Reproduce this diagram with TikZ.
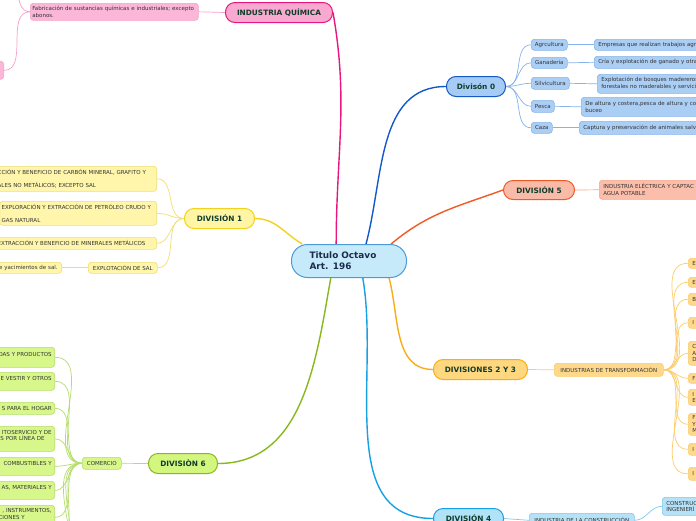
\documentclass[tikz,border=0pt]{standalone}
\usepackage{fontspec}
\usepackage{tikz}
\usetikzlibrary{positioning}
\newfontfamily\mapfont{DejaVu Sans}
\newcommand{\leaffont}{\mapfont\fontsize{5.5}{6.5}\selectfont}
\newcommand{\leaffontmid}{\mapfont\fontsize{5.5}{7}\selectfont}
\newcommand{\leaffontwide}{\mapfont\fontsize{5.5}{13}\selectfont}
\newcommand{\headfont}{\mapfont\bfseries\fontsize{7.35}{9}\selectfont}
\newcommand{\titlefont}{\mapfont\bfseries\fontsize{8.9}{11}\selectfont}
\pgfdeclarelayer{background}
\pgfsetlayers{background,main}
\definecolor{titlefill}{HTML}{C7EAFB}
\definecolor{titleline}{HTML}{4A9BD6}
\definecolor{titletext}{HTML}{1B2B4B}
\definecolor{headtext}{HTML}{0F3B2C}
\definecolor{leaftext}{HTML}{333333}
\definecolor{pinkmain}{HTML}{E8177D}
\definecolor{pinkfill}{HTML}{F9A9CF}
\definecolor{pinkleaf}{HTML}{FBB6D8}
\definecolor{pinkline}{HTML}{F6A0C8}
\definecolor{bluemain}{HTML}{1558C8}
\definecolor{bluefill}{HTML}{A6CBF4}
\definecolor{blueleaf}{HTML}{ABCEF5}
\definecolor{blueline}{HTML}{86B4EA}
\definecolor{redmain}{HTML}{EF5A26}
\definecolor{redfill}{HTML}{F9BBA8}
\definecolor{redleaf}{HTML}{FBBEAA}
\definecolor{redline}{HTML}{F8A68A}
\definecolor{orgmain}{HTML}{F8AE18}
\definecolor{orgfill}{HTML}{FED77E}
\definecolor{orgleaf}{HTML}{FED98C}
\definecolor{orgline}{HTML}{FCCD6A}
\definecolor{cyanmain}{HTML}{17A0E4}
\definecolor{cyanfill}{HTML}{B0E2F8}
\definecolor{cyanleaf}{HTML}{B6E2F8}
\definecolor{cyanline}{HTML}{7CC9EF}
\definecolor{ylwmain}{HTML}{F1D21E}
\definecolor{ylwfill}{HTML}{FFF5A5}
\definecolor{ylwleaf}{HTML}{FFF6AB}
\definecolor{ylwline}{HTML}{F3DD72}
\definecolor{grnmain}{HTML}{88B81D}
\definecolor{grnfill}{HTML}{D3F67F}
\definecolor{grnleaf}{HTML}{D8F78B}
\definecolor{grnline}{HTML}{B5DD6A}
\tikzstyle{maphead}=[rectangle, rounded corners=9.5pt, line width=1pt, inner sep=0pt, font=\headfont, text=headtext, anchor=north west]
\tikzstyle{mapleaf}=[rectangle, rounded corners=3pt, line width=0.6pt, inner sep=0pt, font=\leaffont, text=leaftext, anchor=north west]
\tikzstyle{leafleft}=[mapleaf, align=left, inner xsep=4pt]
\tikzstyle{mainlink}=[line width=1.4pt]
\tikzstyle{leaflink}=[line width=0.7pt]

\begin{document}
\begin{tikzpicture}[x=1pt, y=1pt]
          \useasboundingbox (0,0) rectangle (696,-520);
          \clip (0,0) rectangle (696,-520);
          % centre
          \node[rectangle, rounded corners=16pt, fill=titlefill, draw=titleline, line width=1pt, font=\titlefont, text=titletext, anchor=north west, minimum height=33pt, text width=79pt, inner xsep=18pt, inner ysep=0pt, align=left] (title) at (291,-244) {Titulo Octavo\\Art. 196};
          % industria quimica
          \node[maphead, fill=pinkfill, draw=pinkmain, minimum width=107pt, minimum height=20pt] (quim) at (225,-2) {INDUSTRIA QUÍMICA};
          \node[leafleft, fill=pinkleaf, draw=pinkline, minimum height=17pt, text width=164pt, inner xsep=2pt] (fab) at (30,-3) {\mbox{Fabricación de sustancias químicas e industriales; excepto}\\abonos.};
          \node[mapleaf, fill=pinkleaf, draw=pinkline, anchor=north east, minimum width=14pt, minimum height=18pt] (pinkbox) at (4,-61) {};
          \coordinate (pinkup) at (5,30);
          % division 0
          \node[maphead, fill=bluefill, draw=bluemain, minimum width=59pt, minimum height=20pt] (div0) at (446,-76) {Divisón 0};
          \node[mapleaf, fill=blueleaf, draw=blueline, minimum width=36pt, minimum height=11pt] (agr) at (531,-39) {Agrcultura};
          \node[mapleaf, fill=blueleaf, draw=blueline, minimum width=36pt, minimum height=11pt] (gan) at (531,-57) {Ganaderia};
          \node[mapleaf, fill=blueleaf, draw=blueline, minimum width=38pt, minimum height=12pt] (silv) at (531,-77) {Silvicultura};
          \node[mapleaf, fill=blueleaf, draw=blueline, minimum width=23pt, minimum height=12pt] (pesca) at (531,-100) {Pesca};
          \node[mapleaf, fill=blueleaf, draw=blueline, minimum width=21pt, minimum height=11pt] (caza) at (531,-122) {Caza};
          \node[leafleft, fill=blueleaf, draw=blueline, minimum height=11pt, text width=150pt] (emp) at (594,-39) {Empresas que realizan trabajos agr};
          \node[leafleft, fill=blueleaf, draw=blueline, minimum height=12pt, text width=150pt] (cria) at (594,-56) {Cría y explotación de ganado y otra};
          \node[leafleft, fill=blueleaf, draw=blueline, minimum height=19pt, text width=150pt, font=\leaffontmid] (expl) at (597,-74) {Explotación de bosques madereros\\forestales no maderables y servici};
          \node[leafleft, fill=blueleaf, draw=blueline, minimum height=19pt, text width=150pt, font=\leaffontmid] (altura) at (581,-97) {De altura y costera,pesca de altura y co\\buceo};
          \node[leafleft, fill=blueleaf, draw=blueline, minimum height=13pt, text width=150pt] (captura) at (579,-121) {Captura y preservación de animales salv};
          % division 5
          \node[maphead, fill=redfill, draw=redmain, minimum width=71pt, minimum height=19pt] (div5) at (503,-180) {DIVISIÓN 5};
          \node[leafleft, fill=redleaf, draw=redline, minimum height=19pt, text width=150pt, font=\leaffontmid] (elec) at (599,-180) {INDUSTRIA ELÉCTRICA Y CAPTAC\\AGUA POTABLE};
          % divisiones 2 y 3
          \node[maphead, fill=orgfill, draw=orgmain, minimum width=94pt, minimum height=20pt] (div23) at (433,-359) {DIVISIONES 2 Y 3};
          \node[mapleaf, fill=orgleaf, draw=orgline, minimum width=109pt, minimum height=13pt] (trans) at (554,-363) {INDUSTRIAS DE TRANSFORMACIÓN};
          \node[leafleft, fill=orgleaf, draw=orgline, minimum height=10pt, text width=20pt] (t1) at (688,-258) {E};
          \node[leafleft, fill=orgleaf, draw=orgline, minimum height=10pt, text width=20pt] (t2) at (688,-277) {E};
          \node[leafleft, fill=orgleaf, draw=orgline, minimum height=12pt, text width=20pt] (t3) at (688,-293) {B};
          \node[leafleft, fill=orgleaf, draw=orgline, minimum height=11pt, text width=20pt] (t4) at (688,-317) {I};
          \node[leafleft, fill=orgleaf, draw=orgline, minimum height=24pt, text width=20pt] (t5) at (688,-341) {C\\A\\D};
          \node[leafleft, fill=orgleaf, draw=orgline, minimum height=10pt, text width=20pt] (t6) at (688,-373) {F};
          \node[leafleft, fill=orgleaf, draw=orgline, minimum height=16pt, text width=20pt] (t7) at (688,-389) {I\\E};
          \node[leafleft, fill=orgleaf, draw=orgline, minimum height=22pt, text width=20pt] (t8) at (688,-413) {F\\Y\\M};
          \node[leafleft, fill=orgleaf, draw=orgline, minimum height=12pt, text width=20pt] (t9) at (688,-443) {I};
          \node[leafleft, fill=orgleaf, draw=orgline, minimum height=13pt, text width=20pt] (t10) at (688,-467) {I};
          % division 4
          \node[maphead, fill=cyanfill, draw=cyanmain, minimum width=70pt, minimum height=20pt] (div4) at (433,-508) {DIVISIÓN 4};
          \node[mapleaf, fill=cyanleaf, draw=cyanline, minimum width=105pt, minimum height=14pt] (constr) at (529,-513) {INDUSTRIA DE LA CONSTRUCCIÓN};
          \node[leafleft, fill=cyanleaf, draw=cyanline, minimum height=18pt, text width=40pt] (ingen) at (662,-497) {CONSTRUC\\INGENIERÍ};
          % division 1
          \node[maphead, fill=ylwfill, draw=ylwmain, minimum width=70pt, minimum height=20pt] (div1) at (184,-208) {DIVISIÓN 1};
          \node[mapleaf, fill=ylwleaf, draw=ylwline, anchor=north east, align=left, inner xsep=2pt, minimum height=25pt, text width=157pt, font=\leaffontwide] (carbon) at (157,-166) {CCIÓN Y BENEFICIO DE CARBÓN MINERAL, GRAFITO Y\\ALES NO METÁLICOS; EXCEPTO SAL};
          \node[mapleaf, fill=ylwleaf, draw=ylwline, anchor=north east, align=left, inner xsep=2pt, minimum height=24pt, text width=153pt, font=\leaffontwide] (petro) at (157,-201) {EXPLORACIÓN Y EXTRACCIÓN DE PETRÓLEO CRUDO Y\\GAS NATURAL};
          \node[mapleaf, fill=ylwleaf, draw=ylwline, anchor=north east, align=left, inner xsep=2pt, minimum height=12pt, text width=157pt] (metal) at (157,-237) {EXTRACCIÓN Y BENEFICIO DE MINERALES METÁLICOS};
          \node[mapleaf, fill=ylwleaf, draw=ylwline, minimum width=69pt, minimum height=11pt] (sal) at (88,-262) {EXPLOTACIÓN DE SAL};
          \node[mapleaf, fill=ylwleaf, draw=ylwline, anchor=north east, align=right, inner xsep=4pt, minimum height=11pt, text width=70pt] (yacim) at (62,-262) {e yacimientos de sal.};
          % division 6
          \node[maphead, fill=grnfill, draw=grnmain, minimum width=69pt, minimum height=20pt] (div6) at (148,-453) {DIVISIÒN 6};
          \node[mapleaf, fill=grnleaf, draw=grnline, minimum width=39pt, minimum height=12pt] (comercio) at (82,-457) {COMERCIO};
          \node[mapleaf, fill=grnleaf, draw=grnline, anchor=north east, align=right, inner xsep=3pt, minimum height=20pt, text width=70pt] (com1) at (55,-347) {DAS Y PRODUCTOS\\\mbox{}};
          \node[mapleaf, fill=grnleaf, draw=grnline, anchor=north east, align=right, inner xsep=3pt, minimum height=18pt, text width=70pt] (com2) at (55,-372) {E VESTIR Y OTROS\\\mbox{}};
          \node[mapleaf, fill=grnleaf, draw=grnline, anchor=north east, align=right, inner xsep=3pt, minimum height=12pt, text width=70pt] (com3) at (55,-402) {S PARA EL HOGAR};
          \node[mapleaf, fill=grnleaf, draw=grnline, anchor=north east, align=right, inner xsep=3pt, minimum height=25pt, text width=70pt] (com4) at (55,-426) {ITOSERVICIO Y DE\\ES POR LÍNEA DE\hspace*{7pt}\mbox{}\\\mbox{}};
          \node[mapleaf, fill=grnleaf, draw=grnline, anchor=north east, align=right, inner xsep=3pt, minimum height=18pt, text width=70pt] (com5) at (55,-457) {COMBUSTIBLES Y\\\mbox{}};
          \node[mapleaf, fill=grnleaf, draw=grnline, anchor=north east, align=right, inner xsep=3pt, minimum height=18pt, text width=70pt] (com6) at (55,-481) {AS, MATERIALES Y\\\mbox{}};
          \node[mapleaf, fill=grnleaf, draw=grnline, anchor=north east, align=right, inner xsep=3pt, minimum height=24pt, text width=70pt] (com7) at (55,-505) {, INSTRUMENTOS,\\CIONES Y\hspace*{27pt}\mbox{}\\\mbox{}};
          \coordinate (com8) at (55,-540);
          \coordinate (com9) at (55,-565);
          \coordinate (com10) at (55,-590);
          % connectors
          \begin{pgfonlayer}{background}
          \fill[white] (0,0) rectangle (696,-520);
          \draw[mainlink, draw=pinkmain] (quim.east) to[out=-80, in=90] (title.127);
          \draw[mainlink, draw=bluemain] (title.45) to[out=75, in=180] (div0.west);
          \draw[mainlink, draw=redmain] (title.22) to[out=40, in=200] (div5.west);
          \draw[mainlink, draw=orgmain] (title.-23) to[out=-75, in=180] (div23.west);
          \draw[mainlink, draw=cyanmain] (title.-51) to[out=-80, in=180] (div4.west);
          \draw[mainlink, draw=grnmain] (title.223) to[out=-100, in=0] (div6.east);
          \draw[mainlink, draw=ylwmain] (title.160) to[out=150, in=0] (div1.east);
          \draw[leaflink, draw=pinkline] (quim.west) -- (fab.east);
          \draw[leaflink, draw=pinkline] (fab.west) to[out=180, in=0] (pinkup);
          \draw[leaflink, draw=pinkline] (fab.west) to[out=180, in=0] (pinkbox.east);
          \draw[leaflink, draw=blueline] (div0.east) to[out=0, in=180] (agr.west);
          \draw[leaflink, draw=blueline] (div0.east) to[out=0, in=180] (gan.west);
          \draw[leaflink, draw=blueline] (div0.east) to[out=0, in=180] (silv.west);
          \draw[leaflink, draw=blueline] (div0.east) to[out=0, in=180] (pesca.west);
          \draw[leaflink, draw=blueline] (div0.east) to[out=0, in=180] (caza.west);
          \draw[leaflink, draw=blueline] (agr.east) -- (emp.west);
          \draw[leaflink, draw=blueline] (gan.east) -- (cria.west);
          \draw[leaflink, draw=blueline] (silv.east) -- (expl.west);
          \draw[leaflink, draw=blueline] (pesca.east) -- (altura.west);
          \draw[leaflink, draw=blueline] (caza.east) -- (captura.west);
          \draw[leaflink, draw=redline] (div5.east) -- (elec.west);
          \draw[leaflink, draw=orgline] (div23.east) -- (trans.west);
          \draw[leaflink, draw=orgline] (trans.east) to[out=0, in=180] (t1.west);
          \draw[leaflink, draw=orgline] (trans.east) to[out=0, in=180] (t2.west);
          \draw[leaflink, draw=orgline] (trans.east) to[out=0, in=180] (t3.west);
          \draw[leaflink, draw=orgline] (trans.east) to[out=0, in=180] (t4.west);
          \draw[leaflink, draw=orgline] (trans.east) to[out=0, in=180] (t5.west);
          \draw[leaflink, draw=orgline] (trans.east) to[out=0, in=180] (t6.west);
          \draw[leaflink, draw=orgline] (trans.east) to[out=0, in=180] (t7.west);
          \draw[leaflink, draw=orgline] (trans.east) to[out=0, in=180] (t8.west);
          \draw[leaflink, draw=orgline] (trans.east) to[out=0, in=180] (t9.west);
          \draw[leaflink, draw=orgline] (trans.east) to[out=0, in=180] (t10.west);
          \draw[leaflink, draw=cyanline] (div4.east) -- (constr.west);
          \draw[leaflink, draw=cyanline] (constr.east) to[out=0, in=180] (ingen.west);
          \draw[leaflink, draw=ylwline] (div1.west) to[out=180, in=0] (carbon.east);
          \draw[leaflink, draw=ylwline] (div1.west) to[out=180, in=0] (petro.east);
          \draw[leaflink, draw=ylwline] (div1.west) to[out=180, in=0] (metal.east);
          \draw[leaflink, draw=ylwline] (div1.west) to[out=180, in=0] (sal.east);
          \draw[leaflink, draw=ylwline] (sal.west) -- (yacim.east);
          \draw[leaflink, draw=grnline] (div6.west) -- (comercio.east);
          \draw[leaflink, draw=grnline] (comercio.west) to[out=180, in=0] (com1.east);
          \draw[leaflink, draw=grnline] (comercio.west) to[out=180, in=0] (com2.east);
          \draw[leaflink, draw=grnline] (comercio.west) to[out=180, in=0] (com3.east);
          \draw[leaflink, draw=grnline] (comercio.west) to[out=180, in=0] (com4.east);
          \draw[leaflink, draw=grnline] (comercio.west) to[out=180, in=0] (com5.east);
          \draw[leaflink, draw=grnline] (comercio.west) to[out=180, in=0] (com6.east);
          \draw[leaflink, draw=grnline] (comercio.west) to[out=180, in=0] (com7.east);
          \draw[leaflink, draw=grnline] (comercio.west) to[out=180, in=0] (com8);
          \draw[leaflink, draw=grnline] (comercio.west) to[out=180, in=0] (com9);
          \draw[leaflink, draw=grnline] (comercio.west) to[out=180, in=0] (com10);
          \end{pgfonlayer}
        \end{tikzpicture}
\end{document}
